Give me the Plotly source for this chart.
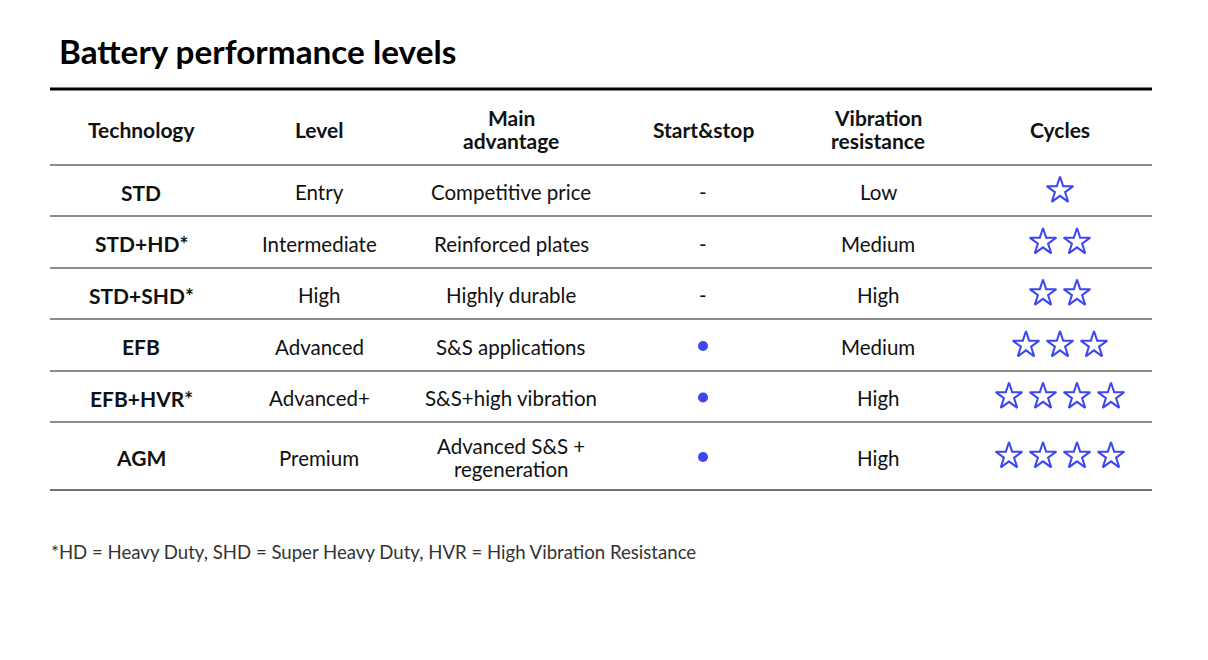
import plotly.graph_objects as go

# ── data ─────────────────────────────────────────────────────────────
headers = ["Technology", "Level", "Main\nadvantage", "Start&stop", "Vibration\nresistance", "Cycles"]
technology = ["STD", "STD+HD*", "STD+SHD*", "EFB", "EFB+HVR*", "AGM"]
level = ["Entry", "Intermediate", "High", "Advanced", "Advanced+", "Premium"]
advantage = ["Competitive price", "Reinforced plates", "Highly durable", "S&S applications",
             "S&S+high vibration", "Advanced S&S +\nregeneration"]
start_stop = [False, False, False, True, True, True]
vibration = ["Low", "Medium", "High", "Medium", "High", "High"]
cycles = [1, 2, 2, 3, 4, 4]
footnote = "*HD = Heavy Duty, SHD = Super Heavy Duty, HVR = High Vibration Resistance"

# layout in page pixels (page body has an 8px margin)
W, H = 1208, 660
OFF = 8
col_x = [141, 319, 511, 703, 878, 1060]
header_y = 129
row_edges = [165, 216, 268, 319, 371, 422, 490]
row_y = [(a + b) / 2 for a, b in zip(row_edges[:-1], row_edges[1:])]
left, right = 50, 1152
BLUE = "#3d47f0"
FONT = "Lato, 'Open Sans', sans-serif"
TXT = 20.5
LINE_H = 23.5

fig = go.Figure()


def cell(x, y, text, size=TXT, bold=False):
    lines = text.split("\n")
    for j, ln in enumerate(lines):
        yy = y + (j - (len(lines) - 1) / 2) * LINE_H
        fig.add_annotation(x=x, y=yy, text=f"<b>{ln}</b>" if bold else ln, showarrow=False,
                           font=dict(size=size, color="#111"), xanchor="center", yanchor="middle")


# header + body text
for cx, h in zip(col_x, headers):
    cell(cx, header_y, h, size=21, bold=True)

for i, y in enumerate(row_y):
    ty = y + 1.5
    cell(col_x[0], ty, technology[i], size=21, bold=True)
    cell(col_x[1], ty, level[i])
    cell(col_x[2], ty, advantage[i])
    cell(col_x[4], ty, vibration[i])
    if not start_stop[i]:
        cell(col_x[3], ty, "-")

# start&stop dots
dot_y = [y + 1 for y, s in zip(row_y, start_stop) if s]
fig.add_trace(go.Scatter(x=[col_x[3]] * len(dot_y), y=dot_y, mode="markers",
                         marker=dict(symbol="circle", size=10, color=BLUE),
                         hoverinfo="skip", showlegend=False))

# cycle stars
star_x, star_y = [], []
for y, n in zip(row_y, cycles):
    for k in range(n):
        star_x.append(col_x[5] + (k - (n - 1) / 2) * 34)
        star_y.append(y)
fig.add_trace(go.Scatter(x=star_x, y=star_y, mode="markers",
                         marker=dict(symbol="star-open", size=20, color=BLUE,
                                     line=dict(width=2, color=BLUE)),
                         hoverinfo="skip", showlegend=False))

# rules
fig.add_shape(type="line", x0=left, x1=right, y0=89, y1=89, line=dict(color="#000", width=3))
for k, ye in enumerate(row_edges):
    fig.add_shape(type="line", x0=left, x1=right, y0=ye, y1=ye,
                  line=dict(color="#444" if k == len(row_edges) - 1 else "#666", width=1.3))

# title + footnote
fig.add_annotation(x=57, y=51, text="<b>Battery performance levels</b>", showarrow=False,
                   xanchor="left", yanchor="middle", font=dict(size=33.3, color="#000"))
fig.add_annotation(x=49, y=552, text=footnote, showarrow=False, xanchor="left", yanchor="middle",
                   font=dict(size=18.6, color="#333"))

fig.update_layout(
    width=W, height=H, margin=dict(l=0, r=0, t=0, b=0),
    paper_bgcolor="white", plot_bgcolor="white",
    font=dict(family=FONT),
    xaxis=dict(range=[OFF, W + OFF], visible=False, fixedrange=True),
    yaxis=dict(range=[H + OFF, OFF], visible=False, fixedrange=True),
)

fig.write_html("out.html")
